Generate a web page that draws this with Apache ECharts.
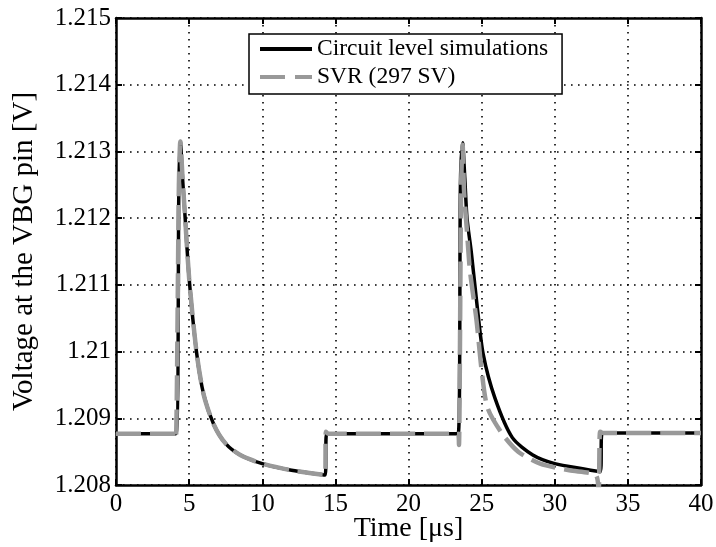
<!DOCTYPE html>
<html>
<head>
<meta charset="utf-8">
<script src="https://cdn.jsdelivr.net/npm/echarts@6/dist/echarts.min.js"></script>
<style>
html,body{margin:0;padding:0;background:#fff;}
#chart{width:716px;height:547px;}
</style>
</head>
<body>
<div id="chart"></div>
<script>
// ---- data ----
var seriesNames = ['Circuit level simulations', 'SVR (297 SV)'];

var circuitTime = [0, 4.1, 4.3, 4.4, 4.55, 4.7, 5.0, 5.5, 6.0, 6.7, 7.5, 8.5, 10, 12, 14.3, 14.4,
  23.4, 23.55, 23.7, 23.85, 24.0, 24.3, 24.7, 25.1, 25.9, 27.1, 28.5, 30, 32, 33.1, 33.25, 40];
var circuitVolt = [1.20877, 1.20877, 1.2125, 1.21315, 1.2126, 1.2121, 1.2111, 1.2100, 1.20935, 1.2089, 1.20862, 1.20845, 1.20832, 1.20822, 1.20815, 1.20877,
  1.20877, 1.2125, 1.21313, 1.2126, 1.2120, 1.21148, 1.21067, 1.20997, 1.20931, 1.20871, 1.20845, 1.20832, 1.20824, 1.2082, 1.20878, 1.20878];

var svrTime = [0, 4.05, 4.1, 4.3, 4.4, 4.55, 4.7, 5.0, 5.5, 6.0, 6.7, 7.5, 8.5, 10, 12, 14.3, 14.35, 14.5,
  23.4, 23.45, 23.6, 23.7, 23.8, 24.0, 24.2, 24.65, 25.0, 25.4, 26.4, 27.5, 29, 31, 32.8, 33.0, 33.1, 33.3, 40];
var svrVolt = [1.20877, 1.20877, 1.2087, 1.2125, 1.21315, 1.2126, 1.2121, 1.2111, 1.2100, 1.20935, 1.2089, 1.20862, 1.20845, 1.20832, 1.20822, 1.20815, 1.2088, 1.20877,
  1.20877, 1.2086, 1.2125, 1.2131, 1.2124, 1.2118, 1.21122, 1.21047, 1.20972, 1.20916, 1.20877, 1.2085, 1.20832, 1.20822, 1.20815, 1.2079, 1.2088, 1.20878, 1.20878];

var xTickLabels = ['0', '5', '10', '15', '20', '25', '30', '35', '40'];
var yTickLabels = ['1.208', '1.209', '1.21', '1.211', '1.212', '1.213', '1.214', '1.215'];
var xTitle = 'Time [\u03bcs]';
var yTitle = 'Voltage at the VBG pin [V]';

// ---- build ----
function pairs(t, v) { return t.map(function (x, i) { return [x, v[i]]; }); }

var FONT = 'Liberation Serif';
var chart = echarts.init(document.getElementById('chart'), null, { renderer: 'canvas' });

var gridLine = { show: true, lineStyle: { color: '#000', width: 1.6, type: [1.6, 5.4] } };
var frame = { show: true, onZero: false, lineStyle: { color: '#000', width: 2.5 } };
var ticksIn = { show: true, inside: true, length: 6, lineStyle: { color: '#000', width: 2 } };

var solidIcon = 'path://M0,0H52V4H0Z';
var dashIcon = 'path://M0,0H25V4H0Z M35,0H52V4H35Z';

chart.setOption({
  animation: false,
  backgroundColor: '#fff',
  textStyle: { fontFamily: FONT },
  grid: { left: 116, right: 15, top: 18, bottom: 62, containLabel: false, outerBoundsMode: 'none' },
  legend: {
    orient: 'vertical',
    left: 249, top: 34,
    padding: [2, 14, 4, 11],
    itemGap: 2,
    itemWidth: 52, itemHeight: 4,
    backgroundColor: '#fff',
    borderColor: '#000', borderWidth: 1.5,
    textStyle: { fontFamily: FONT, fontSize: 23.5, color: '#000', lineHeight: 26 },
    data: [
      { name: seriesNames[0], icon: solidIcon, itemStyle: { color: '#000' } },
      { name: seriesNames[1], icon: dashIcon, itemStyle: { color: '#999' } }
    ]
  },
  xAxis: [{
    type: 'value', min: 0, max: 40, interval: 5,
    name: xTitle, nameLocation: 'middle', nameGap: 30, nameMoveOverlap: false,
    nameTextStyle: { fontFamily: FONT, fontSize: 28, color: '#000' },
    axisLine: frame, axisTick: ticksIn,
    axisLabel: { fontFamily: FONT, fontSize: 25, color: '#000', margin: 7,
      formatter: function (v) { return xTickLabels[Math.round(v / 5)]; } },
    splitLine: gridLine
  }, {
    type: 'value', position: 'top', min: 0, max: 40, interval: 5,
    axisLine: frame, axisTick: ticksIn, axisLabel: { show: false }, splitLine: { show: false }
  }],
  yAxis: [{
    type: 'value', min: 1.208, max: 1.215, interval: 0.001,
    name: yTitle, nameLocation: 'middle', nameGap: 77, nameRotate: 90, nameMoveOverlap: false,
    nameTextStyle: { fontFamily: FONT, fontSize: 29, color: '#000' },
    axisLine: frame, axisTick: ticksIn,
    axisLabel: { fontFamily: FONT, fontSize: 25, color: '#000', margin: 5,
      formatter: function (v) { return yTickLabels[Math.round((v - 1.208) / 0.001)]; } },
    splitLine: gridLine
  }, {
    type: 'value', position: 'right', min: 1.208, max: 1.215, interval: 0.001,
    axisLine: frame, axisTick: ticksIn, axisLabel: { show: false }, splitLine: { show: false }
  }],
  series: [{
    name: seriesNames[0], type: 'line', showSymbol: false, symbol: 'none',
    data: pairs(circuitTime, circuitVolt), smooth: 0.25,
    lineStyle: { color: '#000', width: 3.5 },
    itemStyle: { color: '#000' }, z: 3
  }, {
    name: seriesNames[1], type: 'line', showSymbol: false, symbol: 'none',
    data: pairs(svrTime, svrVolt), smooth: 0.25,
    lineStyle: { color: '#999', width: 4.5, type: [25, 9] },
    itemStyle: { color: '#999' }, z: 4
  }]
});
</script>
</body>
</html>
